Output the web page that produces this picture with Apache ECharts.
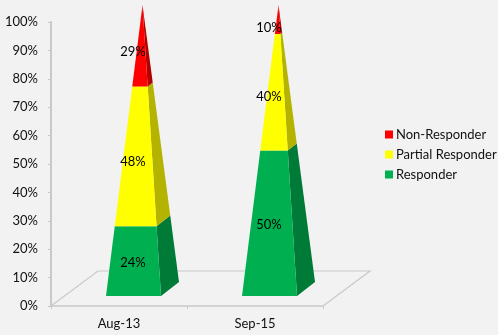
<!DOCTYPE html>
<html>
<head>
<meta charset="utf-8">
<style>html,body{margin:0;padding:0;background:#f2f2f2}#c{width:498px;height:335px}</style>
<script src="https://cdn.jsdelivr.net/npm/echarts@6/dist/echarts.min.js"></script>
</head>
<body>
<div id="c"></div>
<script>
const categories = ['Aug-13', 'Sep-15'];
const responder = [24, 50];
const partialResponder = [48, 40];
const nonResponder = [29, 10];

const fontFamily = 'Lato, "Noto Sans", sans-serif';
const axisGrey = '#c9c9c9';

// Oblique projection of the floor and of each square pyramid, relative to the category band.
const FLOOR_DX = 47 / 136, FLOOR_DY = 35 / 136;
const CENTER_DX = 23.5 / 136, CENTER_DY = 17 / 136;
const FRONT_DX = 18.5 / 136, BACK_DX = 36.5 / 136, DEPTH_DY = 7 / 136;

const layers = [
  { name: 'Responder', values: responder, front: '#00b050', side: '#007a37', labelShift: 1.5 },
  { name: 'Partial Responder', values: partialResponder, front: '#ffff00', side: '#b3b300', labelShift: 5 },
  { name: 'Non-Responder', values: nonResponder, front: '#ff0000', side: '#b30000', labelShift: 8 }
];

// Running stack: every row is [category index, lower bound, upper bound, value].
function stackRows(layerIndex) {
  return categories.map((_, c) => {
    let low = 0;
    for (let i = 0; i < layerIndex; i++) low += layers[i].values[c];
    const v = layers[layerIndex].values[c];
    return [c, low, low + v, v];
  });
}

function pyramidLayer(layer) {
  return function (params, api) {
    const band = api.size([1, 0])[0];
    const c = api.value(0), low = api.value(1), high = Math.min(api.value(2), 100);
    const point = v => {
      const p = api.coord([c, v]);
      const k = Math.max(0, 1 - v / 100);
      const cx = p[0] + band * CENTER_DX, cy = p[1] - band * CENTER_DY;
      return {
        left: [cx - band * BACK_DX * k, cy + band * DEPTH_DY * k],
        right: [cx + band * FRONT_DX * k, cy + band * DEPTH_DY * k],
        back: [cx + band * BACK_DX * k, cy - band * DEPTH_DY * k]
      };
    };
    const a = point(low), b = point(high);
    const mid = api.coord([c, (api.value(1) + api.value(2)) / 2]);
    const midK = Math.max(0, 1 - (api.value(1) + api.value(2)) / 200);
    return {
      type: 'group',
      children: [
        { type: 'polygon', shape: { points: [a.right, a.back, b.back, b.right] },
          style: { fill: layer.side } },
        { type: 'polygon', shape: { points: [a.left, a.right, b.right, b.left] },
          style: { fill: layer.front } },
        { type: 'text', z2: 10,
          style: {
            x: mid[0] + band * (CENTER_DX - (BACK_DX - FRONT_DX) / 2) - 0.5,
            y: mid[1] - band * CENTER_DY + band * DEPTH_DY * midK + layer.labelShift,
            text: api.value(3) + '%', fill: '#000', font: '13px ' + fontFamily,
            align: 'center', verticalAlign: 'middle'
          } }
      ]
    };
  };
}

// Outline of the floor behind the pyramids.
function floorOutline(params, api) {
  const band = api.size([1, 0])[0];
  const l = api.coord([0, 0]), r = api.coord([categories.length - 1, 0]);
  const x0 = l[0] - band / 2, x1 = r[0] + band / 2, y0 = l[1];
  const dx = band * FLOOR_DX, dy = band * FLOOR_DY;
  return {
    type: 'polyline',
    shape: { points: [[x0, y0], [x0 + dx, y0 - dy], [x1 + dx, y0 - dy], [x1, y0]] },
    style: { stroke: axisGrey, lineWidth: 1.2, fill: null }
  };
}

const chart = echarts.init(document.getElementById('c'), null, { renderer: 'canvas' });
chart.setOption({
  animation: false,
  backgroundColor: '#f2f2f2',
  grid: { left: 51, right: 175, top: 22, bottom: 29 },
  xAxis: {
    type: 'category', data: categories,
    axisLine: { lineStyle: { color: axisGrey, width: 1.5 } },
    axisTick: { show: true, length: 3, lineStyle: { color: axisGrey } },
    axisLabel: { color: '#111', fontFamily, fontSize: 13, margin: 11 }
  },
  yAxis: {
    type: 'value', min: 0, max: 100, interval: 10,
    axisLine: { show: true, lineStyle: { color: axisGrey, width: 2 } },
    axisTick: { show: true, length: 3, lineStyle: { color: axisGrey } },
    splitLine: { show: false },
    axisLabel: { color: '#111', fontFamily, fontSize: 13, margin: 13, formatter: '{value}%' }
  },
  legend: {
    orient: 'vertical', left: 380, top: 123,
    data: ['Non-Responder', 'Partial Responder', 'Responder'],
    icon: 'rect', itemWidth: 8, itemHeight: 8, itemGap: 7,
    textStyle: { color: '#111', fontFamily, fontSize: 13, padding: [0, 0, 0, -2] }
  },
  series: [
    { type: 'custom', name: 'floor', silent: true, clip: false, z: 1,
      data: [[0, 0]], renderItem: floorOutline, encode: { x: 0, y: 1 } }
  ].concat(layers.map((layer, i) => ({
    type: 'custom', name: layer.name, clip: false, z: 2 + i, silent: true,
    itemStyle: { color: layer.front },
    data: stackRows(i),
    encode: { x: 0, y: [1, 2] },
    renderItem: pyramidLayer(layer)
  })))
});
</script>
</body>
</html>
